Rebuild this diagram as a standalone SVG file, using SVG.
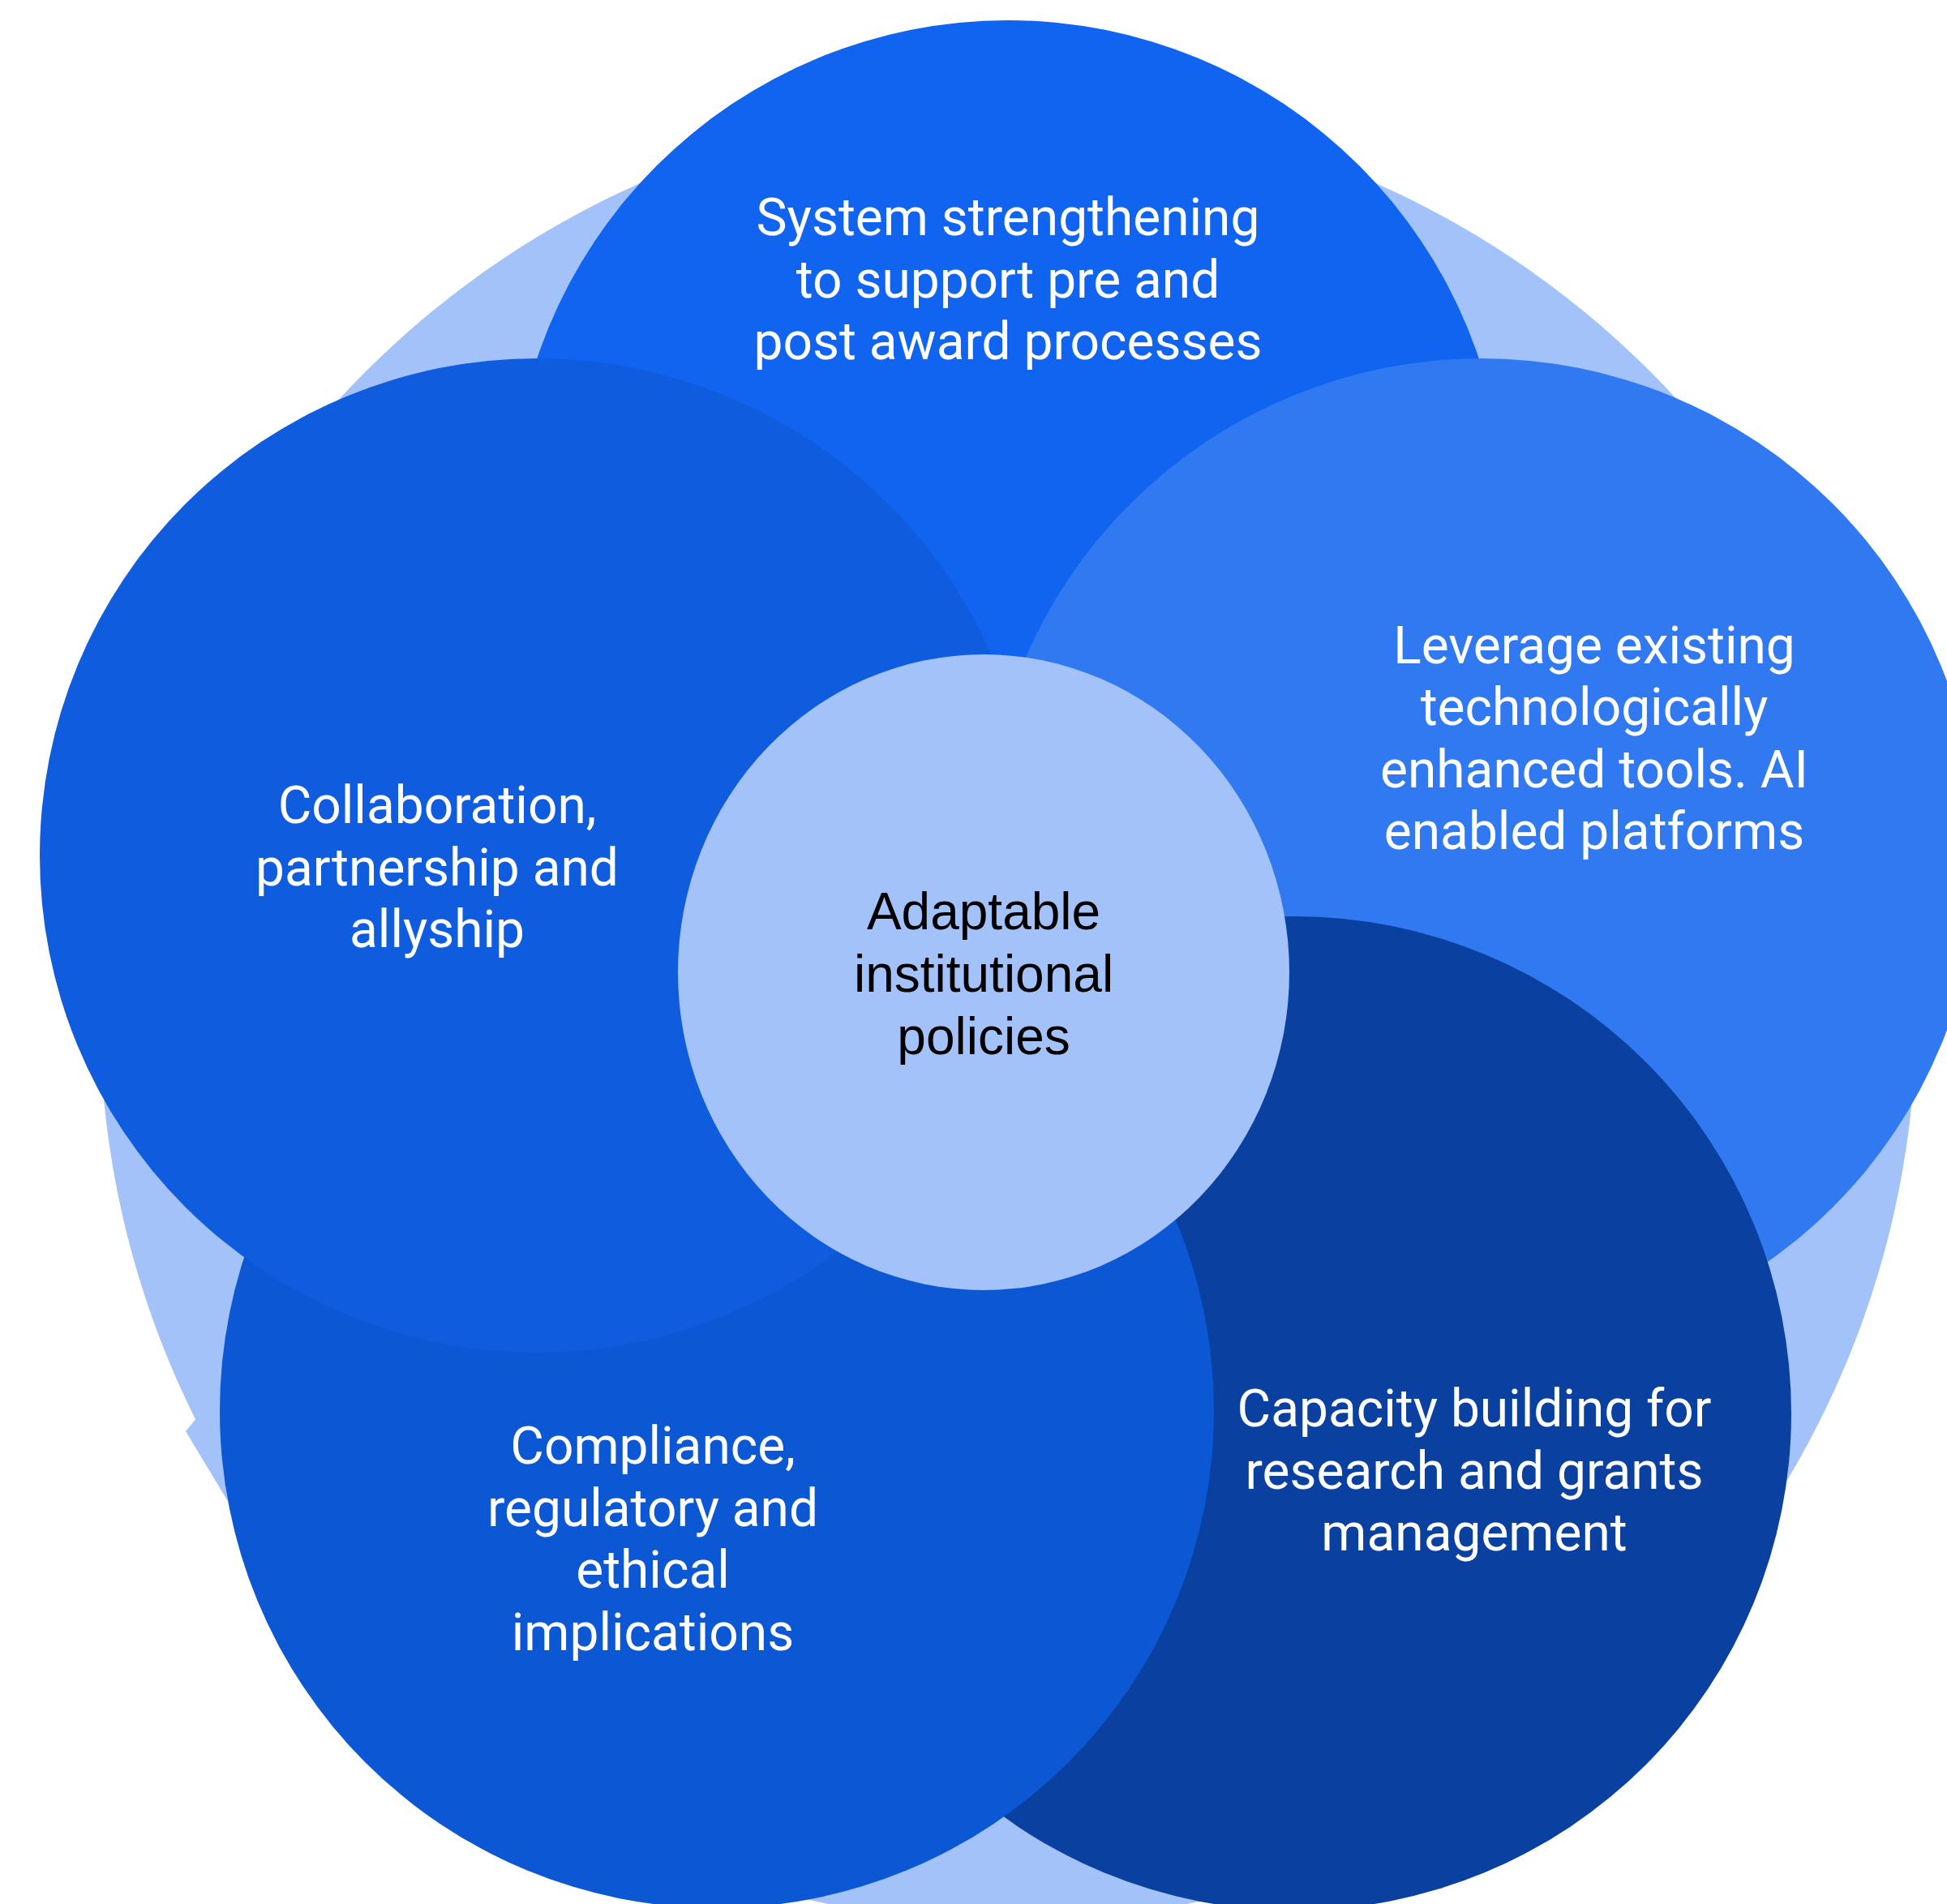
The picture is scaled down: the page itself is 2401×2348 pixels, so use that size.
<svg xmlns="http://www.w3.org/2000/svg" width="2401" height="2348" viewBox="0 0 2401 2348">
<style>
.lbl{font-family:Roboto,"Liberation Sans",sans-serif;font-size:64px;fill:#ffffff;text-anchor:middle}
.ctr{font-family:"Liberation Sans",Arial,sans-serif;font-size:64px;fill:#000000;text-anchor:middle}
.bg{fill:#A3C2F9}
</style>
<rect width="2401" height="2348" fill="#ffffff"/>
<g id="background">
<circle class="bg" cx="1243" cy="1250" r="1120"/>
<polygon class="bg" points="243,1748 229,1765 330,1933 700,1700 400,1600"/>
</g>
<g id="node-top">
<circle cx="1243" cy="638" r="613" fill="#1064F0"/>
<text class="lbl" x="1243" y="290">System strengthening</text>
<text class="lbl" x="1243" y="367">to support pre and</text>
<text class="lbl" x="1243" y="443">post award processes</text>
</g>
<g id="node-right">
<circle cx="1827" cy="1055" r="613" fill="#3079F1"/>
<text class="lbl" x="1966" y="818">Leverage existing</text>
<text class="lbl" x="1966" y="894">technologically</text>
<text class="lbl" x="1966" y="971">enhanced tools. AI</text>
<text class="lbl" x="1966" y="1047">enabled platforms</text>
</g>
<g id="node-bottom-right">
<circle cx="1596" cy="1743" r="613" fill="#0A40A0"/>
<text class="lbl" x="1818" y="1759">Capacity building for</text>
<text class="lbl" x="1818" y="1836">research and grants</text>
<text class="lbl" x="1818" y="1912">management</text>
</g>
<g id="node-bottom-left">
<circle cx="884" cy="1740" r="613" fill="#0C57D4"/>
<text class="lbl" x="805" y="1805">Compliance,</text>
<text class="lbl" x="805" y="1882">regulatory and</text>
<text class="lbl" x="805" y="1958">ethical</text>
<text class="lbl" x="805" y="2035">implications</text>
</g>
<g id="node-left">
<circle cx="662" cy="1055" r="613" fill="#0F5CDF"/>
<text class="lbl" x="539" y="1015">Collaboration,</text>
<text class="lbl" x="539" y="1092">partnership and</text>
<text class="lbl" x="539" y="1168">allyship</text>
</g>
<g id="node-center">
<ellipse cx="1213" cy="1199" rx="377" ry="392" fill="#A3C2F9"/>
<text class="ctr" x="1213" y="1146">Adaptable</text>
<text class="ctr" x="1213" y="1223">institutional</text>
<text class="ctr" x="1213" y="1300">policies</text>
</g>
<g id="connectors"/>
</svg>
